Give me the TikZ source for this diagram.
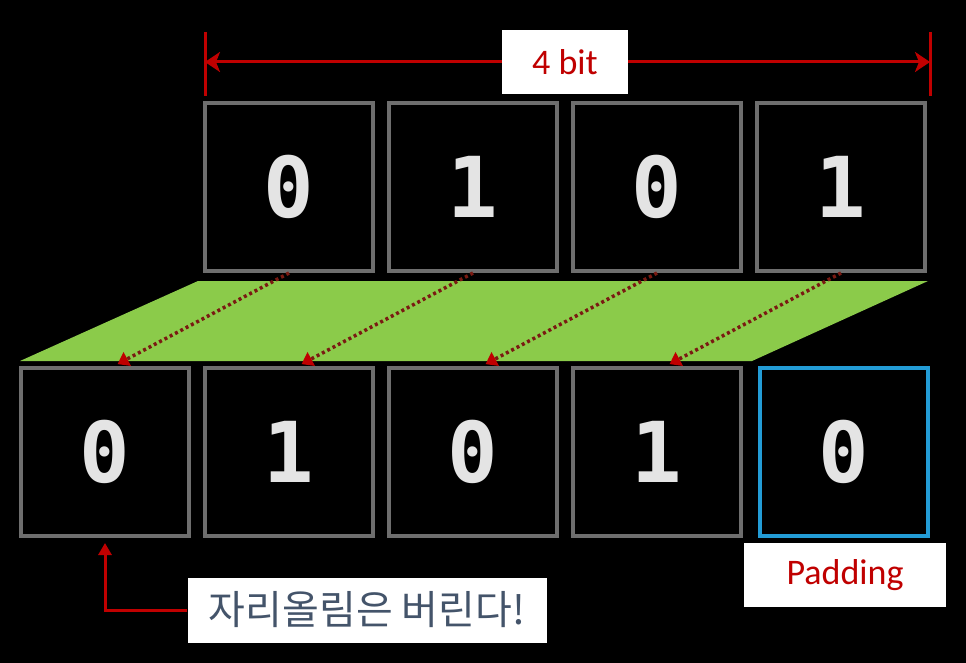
\documentclass[tikz,border=0pt]{standalone}
\usepackage{fontspec}
\setmainfont{Carlito}
\newfontfamily\digitfont{DejaVu Sans Mono}
\newfontfamily\korfont{Noto Sans CJK KR}
\usetikzlibrary{arrows.meta}
\definecolor{boxgray}{HTML}{6E6E6E}
\definecolor{digitgray}{HTML}{E4E4E4}
\definecolor{padblue}{HTML}{239CD6}
\definecolor{lanegreen}{HTML}{8BCB4A}
\definecolor{markred}{HTML}{C00000}
\definecolor{dotred}{HTML}{7A1A12}
\definecolor{textblue}{HTML}{44546A}

\begin{document}
\begin{tikzpicture}[x=1pt,y=-1pt,
    bitbox/.style={draw=boxgray,line width=4pt,minimum size=168pt,inner sep=0pt,
        text=digitgray,font=\digitfont\bfseries\fontsize{84}{84}\selectfont},
    padbox/.style={bitbox,draw=padblue},
    lblbox/.style={fill=white,inner sep=0pt},
    dimline/.style={draw=markred,line width=3pt},
    shiftarrow/.style={draw=dotred,line width=3.5pt,dash pattern=on 3pt off 3pt,
        shorten >=4pt,-{Triangle[length=11pt,width=15pt,color=markred]}}]
    \fill[black] (0,0) rectangle (966,663);
    \fill[lanegreen] (198,281) -- (928,281) -- (752,361) -- (20,361) -- cycle;
    % 4 bit
    \node[bitbox] (t1) at (289,187) {0};
    \node[bitbox] (t2) at (473,187) {1};
    \node[bitbox] (t3) at (657,187) {0};
    \node[bitbox] (t4) at (841,187) {1};
    % shifted
    \node[bitbox] (b1) at (105,452) {0};
    \node[bitbox] (b2) at (289,452) {1};
    \node[bitbox] (b3) at (473,452) {0};
    \node[bitbox] (b4) at (657,452) {1};
    \node[padbox] (b5) at (844,452) {0};
    \draw[shiftarrow] (t1.south) -- ([xshift=9pt]b1.north);
    \draw[shiftarrow] (t2.south) -- ([xshift=9pt]b2.north);
    \draw[shiftarrow] (t3.south) -- ([xshift=9pt]b3.north);
    \draw[shiftarrow] (t4.south) -- ([xshift=9pt]b4.north);
    % width mark
    \coordinate (dimL) at (205,62);
    \coordinate (dimR) at (930,62);
    \draw[dimline] (205,32) -- (205,96);
    \draw[dimline] (930,32) -- (930,96);
    \node[lblbox,minimum width=126pt,minimum height=64pt,text=markred,
        font=\fontsize{36}{36}\selectfont] (bitlbl) at (565,62) {4 bit};
    \draw[dimline,-{Stealth[length=15pt,width=20pt,inset=4pt]}] (bitlbl.west) -- (dimL);
    \draw[dimline,-{Stealth[length=15pt,width=20pt,inset=4pt]}] (bitlbl.east) -- (dimR);
    % labels
    \node[lblbox,minimum width=202pt,minimum height=64pt,text=markred,
        font=\fontsize{36}{36}\selectfont] (padlbl) at (845,575) {Padding};
    \node[lblbox,minimum width=359pt,minimum height=65pt,text=textblue,
        font=\korfont\fontsize{40}{40}\selectfont] (carrylbl) at (367,610) {자리올림은 버린다!};
    \draw[dimline,shorten >=5pt,-{Triangle[length=12pt,width=13pt]}] (carrylbl.west) -| (b1.south);
\end{tikzpicture}
\end{document}
